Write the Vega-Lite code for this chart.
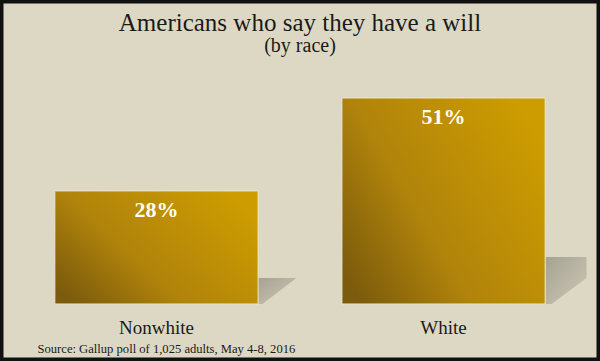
{
  "$schema": "https://vega.github.io/schema/vega-lite/v6.json",
  "width": 600,
  "height": 361,
  "autosize": {"type": "none"},
  "padding": 0,
  "background": "#ddd8c4",
  "data": {"values": [
    {"race": "Nonwhite", "pct": 28, "label": "28%"},
    {"race": "White", "pct": 51, "label": "51%"}
  ]},
  "title": {
    "text": "Americans who say they have a will",
    "subtitle": "(by race)",
    "anchor": "middle",
    "frame": "group",
    "offset": -56,
    "font": "Liberation Serif",
    "fontSize": 25,
    "fontWeight": "normal",
    "color": "#1a1a1a",
    "subtitleFont": "Liberation Serif",
    "subtitleFontSize": 20,
    "subtitleColor": "#1a1a1a",
    "subtitlePadding": 0
  },
  "encoding": {
    "x": {
      "field": "race",
      "type": "nominal",
      "sort": ["Nonwhite", "White"],
      "scale": {"paddingInner": 0.292, "paddingOuter": 0.191},
      "axis": {
        "orient": "bottom",
        "offset": -57,
        "domain": false,
        "ticks": false,
        "grid": false,
        "labelAngle": 0,
        "labelFont": "Liberation Serif",
        "labelFontSize": 19,
        "labelColor": "#1a1a1a",
        "labelBaseline": "alphabetic",
        "labelPadding": 29,
        "title": "Source: Gallup poll of 1,025 adults, May 4-8, 2016",
        "titleFont": "Liberation Serif",
        "titleFontSize": 12.6,
        "titleFontWeight": "normal",
        "titleColor": "#1a1a1a",
        "titleAnchor": "start",
        "titleAlign": "left",
        "titleBaseline": "alphabetic",
        "titleX": 37,
        "titleY": 48
      }
    }
  },
  "layer": [
    {
      "mark": {
        "type": "point",
        "filled": true,
        "opacity": 1,
        "strokeWidth": 0,
        "size": 4,
        "fill": {
          "gradient": "linear",
          "x1": 0, "y1": 0, "x2": 1, "y2": 1,
          "stops": [
            {"offset": 0, "color": "#a6a292"},
            {"offset": 1, "color": "#cdc8b5"}
          ]
        }
      },
      "encoding": {
        "y": {"datum": 0, "type": "quantitative", "scale": {"domain": [-14.112, 75.262], "nice": false, "zero": false}, "axis": null},
        "shape": {
          "field": "race",
          "type": "nominal",
          "scale": {
            "domain": ["Nonwhite", "White"],
            "range": ["M101,-26L140,-26L106,0L101,0Z", "M102,-47L143,-47L143,-26L108,0L102,0Z"]
          },
          "legend": null
        }
      }
    },
    {
      "mark": {
        "type": "bar",
        "stroke": "#ebe6d3",
        "strokeWidth": 1,
        "fill": {
          "gradient": "linear",
          "x1": 0, "y1": 0.85, "x2": 1, "y2": 0.25,
          "stops": [
            {"offset": 0, "color": "#7b5b0c"},
            {"offset": 0.4, "color": "#b0830b"},
            {"offset": 1, "color": "#cd9c00"}
          ]
        }
      },
      "encoding": {
        "y": {"field": "pct", "type": "quantitative", "scale": {"domain": [-14.112, 75.262], "nice": false, "zero": false}, "axis": null},
        "y2": {"datum": 0}
      }
    },
    {
      "mark": {
        "type": "text",
        "font": "Liberation Serif",
        "fontSize": 22,
        "fontWeight": "bold",
        "color": "#fffdf4",
        "baseline": "alphabetic",
        "dy": 26
      },
      "encoding": {
        "y": {"field": "pct", "type": "quantitative", "scale": {"domain": [-14.112, 75.262], "nice": false, "zero": false}, "axis": null},
        "text": {"field": "label", "type": "nominal"}
      }
    }
  ],
  "config": {
    "view": {"stroke": "#111111", "strokeWidth": 7, "fill": "#ddd8c4"}
  }
}
